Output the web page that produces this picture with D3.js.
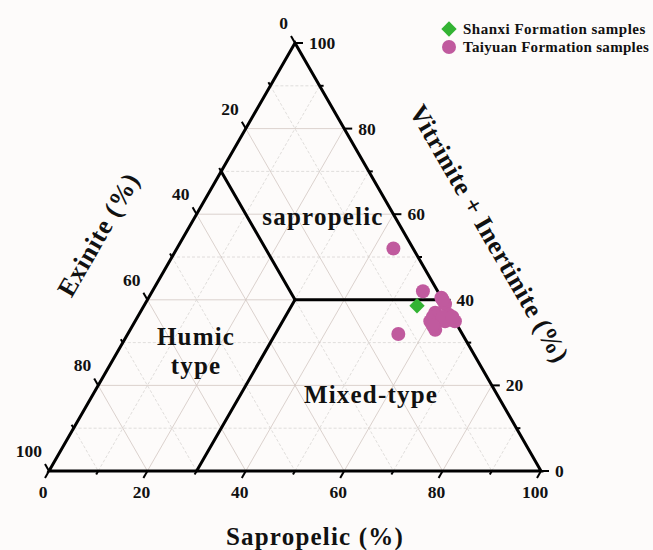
<!DOCTYPE html>
<html>
<head>
<meta charset="utf-8">
<script src="https://cdn.jsdelivr.net/npm/d3@7"></script>
<style>
  html, body { margin: 0; padding: 0; background: #fdfbfa; }
  svg { display: block; }
  text { font-family: "Liberation Serif", "Times New Roman", serif; font-weight: bold; fill: #111; }
</style>
</head>
<body>
<svg id="chart" width="653" height="550"></svg>
<script>
// Ternary composition of maceral groups (%): Sapropelic, Vitrinite+Inertinite, Exinite
const shanxiS = [55.5];
const shanxiV = [38.6];
const shanxiE = [5.9];

const taiyuanS = [44, 55, 55, 59.5, 61, 60, 60, 63, 63, 62, 65, 60, 62, 64, 60, 61];
const taiyuanV = [52, 32, 42, 40.5, 39, 37, 36, 36.5, 35, 33, 35, 35, 36, 36, 40, 34];
const taiyuanE = [4, 13, 3, 0, 0, 3, 4, 0.5, 2, 5, 0, 5, 2, 0, 0, 5];

const tickValues = [0, 20, 40, 60, 80, 100];
const gridValues = [10, 20, 30, 40, 50, 60, 70, 80, 90];

// Classification boundaries: E = 30 (upper-left), S = 30 (lower), V = 40 (right)
const boundaryE = 30, boundaryS = 30, boundaryV = 40;

const legendNames = ["Shanxi Formation samples", "Taiyuan Formation samples"];
const regionNames = ["sapropelic", "Humic", "type", "Mixed-type"];

const svg = d3.select("#chart");

// Scales: horizontal position is S + V/2, vertical is V
const xScale = d3.scaleLinear().domain([0, 100]).range([49, 541]);
const yScale = d3.scaleLinear().domain([0, 100]).range([471, 43]);
const pt = (s, v) => [xScale(s + v / 2), yScale(v)];

// Grid lines: solid every 20, dashed at the odd tens
const grid = svg.append("g");
gridValues.forEach(g => {
  const style = (g % 20 === 0)
    ? { stroke: "#d2c6c2", dash: null, w: 0.8 }
    : { stroke: "#d8d5d3", dash: "3,2", w: 0.8 };
  const segs = [
    [pt(0, g), pt(100 - g, g)],        // V = g
    [pt(g, 0), pt(g, 100 - g)],        // S = g
    [pt(0, 100 - g), pt(100 - g, 0)]   // E = g
  ];
  segs.forEach(([a, b]) => {
    grid.append("line")
      .attr("x1", a[0]).attr("y1", a[1]).attr("x2", b[0]).attr("y2", b[1])
      .attr("stroke", style.stroke).attr("stroke-width", style.w)
      .attr("stroke-dasharray", style.dash);
  });
});

// Classification boundaries
const center = pt(boundaryS, boundaryV);
const bnd = svg.append("g").attr("stroke", "#000").attr("stroke-width", 3).attr("stroke-linecap", "round");
[[pt(0, 100 - boundaryE), center], [pt(boundaryS, 0), center], [center, pt(100 - boundaryV, boundaryV)]]
  .forEach(([a, b]) => bnd.append("line").attr("x1", a[0]).attr("y1", a[1]).attr("x2", b[0]).attr("y2", b[1]));

// Triangle frame
const corners = [pt(0, 0), pt(100, 0), pt(0, 100)];
svg.append("path")
  .attr("d", d3.line()(corners) + "Z")
  .attr("fill", "none").attr("stroke", "#000").attr("stroke-width", 3).attr("stroke-linejoin", "miter");

// Ticks
const ticks = svg.append("g").attr("stroke", "#000").attr("stroke-width", 2);
const cos60 = 0.5, sin60 = Math.sqrt(3) / 2;
d3.range(0, 101, 10).forEach(t => {
  const len = (t % 20 === 0) ? 8 : 4;
  // bottom axis (Sapropelic): outward down-left
  let p = pt(t, 0);
  ticks.append("line").attr("x1", p[0]).attr("y1", p[1])
    .attr("x2", p[0] - len * cos60).attr("y2", p[1] + len * sin60);
  // right axis (V+I): outward right
  p = pt(100 - t, t);
  ticks.append("line").attr("x1", p[0]).attr("y1", p[1])
    .attr("x2", p[0] + len).attr("y2", p[1]);
  // left axis (Exinite): outward up-left
  p = pt(0, 100 - t);
  ticks.append("line").attr("x1", p[0]).attr("y1", p[1])
    .attr("x2", p[0] - len * cos60).attr("y2", p[1] - len * sin60);
});

// Tick labels
const lab = svg.append("g").attr("font-size", 17.5);
tickValues.forEach(t => {
  let p = pt(t, 0);
  lab.append("text").attr("x", p[0] - 6).attr("y", p[1] + 27)
    .attr("text-anchor", "middle").text(t);
  p = pt(100 - t, t);
  lab.append("text").attr("x", p[0] + 14).attr("y", p[1] + 6)
    .attr("text-anchor", "start").text(t);
  p = pt(0, 100 - t);
  lab.append("text").attr("x", p[0] - 7).attr("y", p[1] - 14)
    .attr("text-anchor", "end").text(t);
});

// Axis titles
svg.append("text").attr("font-size", 25).attr("letter-spacing", 1.2)
  .attr("text-anchor", "middle")
  .attr("transform", "translate(315,545)").text("Sapropelic (%)");
svg.append("text").attr("font-size", 26).attr("letter-spacing", 0.8)
  .attr("text-anchor", "middle")
  .attr("transform", "translate(106,239) rotate(-60)").text("Exinite (%)");
svg.append("text").attr("font-size", 26).attr("letter-spacing", 0.6)
  .attr("text-anchor", "middle")
  .attr("transform", "translate(482,238) rotate(60)").text("Vitrinite + Inertinite (%)");

// Region names
const reg = svg.append("g").attr("font-size", 25).attr("letter-spacing", 1.2).attr("text-anchor", "middle");
reg.append("text").attr("x", 323).attr("y", 225).text(regionNames[0]);
reg.append("text").attr("x", 196).attr("y", 345).text(regionNames[1]);
reg.append("text").attr("x", 196).attr("y", 374).text(regionNames[2]);
reg.append("text").attr("x", 371).attr("y", 403).text(regionNames[3]);

// Data points
const pink = "#c05a9e", green = "#33b333";
const taiyuan = taiyuanS.map((s, i) => ({ s, v: taiyuanV[i], e: taiyuanE[i] }));
const shanxi = shanxiS.map((s, i) => ({ s, v: shanxiV[i], e: shanxiE[i] }));
svg.append("g").selectAll("circle").data(taiyuan).join("circle")
  .attr("cx", d => pt(d.s, d.v)[0]).attr("cy", d => pt(d.s, d.v)[1])
  .attr("r", 7).attr("fill", pink);
svg.append("g").selectAll("path").data(shanxi).join("path")
  .attr("d", d3.symbol(d3.symbolDiamond2, 150))
  .attr("transform", d => `translate(${pt(d.s, d.v)[0]},${pt(d.s, d.v)[1]})`)
  .attr("fill", green);

// Legend
const leg = svg.append("g").attr("font-size", 15);
leg.append("path").attr("d", d3.symbol(d3.symbolDiamond2, 150))
  .attr("transform", "translate(449,29)").attr("fill", green);
leg.append("text").attr("x", 463).attr("y", 34).attr("letter-spacing", 0.5).text(legendNames[0]);
leg.append("circle").attr("cx", 449).attr("cy", 47).attr("r", 7).attr("fill", pink);
leg.append("text").attr("x", 463).attr("y", 52).attr("letter-spacing", 0.3).text(legendNames[1]);
</script>
</body>
</html>
